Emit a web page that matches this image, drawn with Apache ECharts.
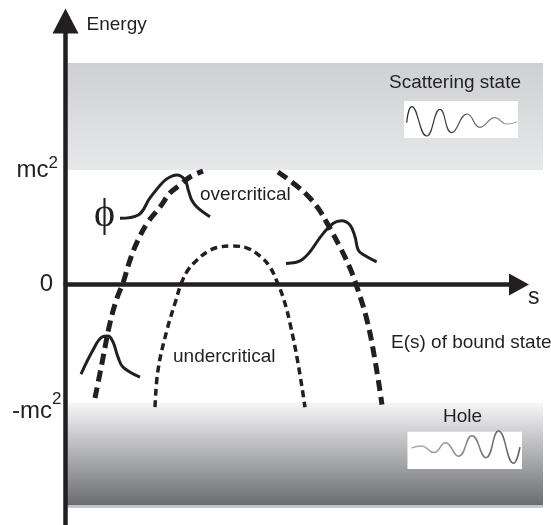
<!DOCTYPE html>
<html><head><meta charset="utf-8">
<script src="https://cdn.jsdelivr.net/npm/echarts@6/dist/echarts.min.js"></script>
<style>html,body{margin:0;padding:0;background:#fff}#c{width:551px;height:525px}</style>
</head><body><div id="c"></div>
<script>
// ---- data (s on x, energy in units of mc^2 on y) ----
const tickValues = [1, 0, -1];
const tickLabels = [['mc', '2'], ['0', ''], ['-mc', '2']];
const axisNames = { x: 's', y: 'Energy' };

const scatteringBand = [[0, 1.0], [10.53, 1.934]];
const holeBand = [[0, -1.93], [10.53, -1.03]];
const holeBandEdge = [[0, -1.952], [10.53, -1.93]];
const scatteringBox = [[7.464, 1.279], [9.978, 1.602]];
const holeBox = [[7.541, -1.612], [10.066, -1.285]];

const overLeft = [[0.650,-0.992],[0.805,-0.686],[0.981,-0.336],[1.136,-0.118],[1.268,0.012],[1.422,0.213],[1.599,0.388],[1.819,0.545],[2.084,0.676],[2.304,0.798],[2.525,0.868],[2.745,0.938],[3.032,0.990]];
const overRight = [[4.686,0.982],[5.017,0.886],[5.325,0.781],[5.568,0.667],[5.766,0.536],[6.053,0.327],[6.273,0.143],[6.428,-0.023],[6.648,-0.311],[6.825,-0.660],[6.979,-1.050]];
const under = [[1.974,-1.071],[2.040,-0.748],[2.238,-0.397],[2.437,-0.135],[2.547,0.003],[2.701,0.126],[2.900,0.213],[3.120,0.283],[3.341,0.322],[3.671,0.335],[4.002,0.318],[4.289,0.248],[4.509,0.152],[4.686,0.003],[4.818,-0.136],[4.950,-0.337],[5.127,-0.686],[5.281,-1.071]];

const phiUpper = [[1.202,0.577],[1.605,0.606],[1.863,0.755],[2.157,0.897],[2.304,0.938],[2.452,0.955],[2.635,0.912],[2.708,0.824],[2.783,0.737],[2.900,0.676],[3.186,0.591]];
const phiRight = [[4.862,0.184],[5.208,0.213],[5.685,0.446],[5.905,0.534],[6.090,0.556],[6.273,0.519],[6.384,0.417],[6.456,0.300],[6.582,0.257],[6.862,0.198]];
const phiLower = [[0.342,-0.783],[0.606,-0.573],[0.805,-0.459],[0.937,-0.450],[1.047,-0.502],[1.158,-0.634],[1.268,-0.721],[1.643,-0.809]];

const scatterWave = [[7.524,1.412],[7.634,1.552],[7.965,1.296],[8.258,1.529],[8.516,1.325],[8.860,1.488],[9.140,1.372],[9.471,1.456],[9.729,1.401],[9.962,1.421]];
const holeWave = [[7.630,-1.428],[7.850,-1.411],[8.126,-1.468],[8.379,-1.381],[8.666,-1.499],[8.964,-1.320],[9.272,-1.512],[9.548,-1.280],[9.879,-1.560],[10.022,-1.420]];

// ---- chart ----
const INK = '#231f20';
const FONT = 'Liberation Sans, Arial, Helvetica, sans-serif';
const chart = echarts.init(document.getElementById('c'), null, { renderer: 'canvas' });
const G = echarts.graphic.LinearGradient;

function curve(data, width, type, z) {
  return { type: 'line', xAxisIndex: 0, yAxisIndex: 0, data, symbol: 'none', smooth: 0.4,
    silent: true, z: z || 3, lineStyle: { color: INK, width, type, cap: 'butt', join: 'round' } };
}
const rangeOf = (r, color) => [{ coord: r[0], itemStyle: { color } }, { coord: r[1] }];

const series = [
  Object.assign(curve(under, 3.5, [7, 4.5]), {
    markArea: { silent: true, data: [
      rangeOf(scatteringBand, new G(0, 0, 0, 1, [{ offset: 0, color: '#cfd0d2' }, { offset: 1, color: '#e7e8e9' }])),
      rangeOf(holeBand, new G(0, 0, 0, 1, [{ offset: 0, color: '#f7f7f8' }, { offset: 1, color: '#6b6c70' }])),
      rangeOf(holeBandEdge, '#c6c7c9')
    ] }
  }),
  Object.assign(curve(overLeft, 5, [11, 6]), {
    markArea: { silent: true, data: [rangeOf(scatteringBox, '#ffffff'), rangeOf(holeBox, '#ffffff')] }
  }),
  curve(overRight, 5, [11, 6]),
  curve(phiUpper, 3, 'solid'),
  curve(phiRight, 3, 'solid'),
  curve(phiLower, 3, 'solid'),
  { type: 'line', data: scatterWave, symbol: 'none', smooth: 0.5, silent: true, z: 4,
    lineStyle: { width: 1.2, color: new G(0, 0, 1, 0, [{ offset: 0, color: '#2a2a2a' }, { offset: 0.55, color: '#555' }, { offset: 1, color: '#b5b5b5' }]) } },
  { type: 'line', data: holeWave, symbol: 'none', smooth: 0.5, silent: true, z: 4,
    lineStyle: { width: 1.5, color: new G(0, 0, 1, 0, [{ offset: 0, color: '#b0b0b0' }, { offset: 1, color: '#5a5a5a' }]) } }
];

const txt = (text, x, y, size, family) => ({ type: 'text', silent: true, z: 20,
  style: { text, x, y, fill: INK, fontSize: size || 19, fontFamily: family || FONT, align: 'left', verticalAlign: 'middle' } });

chart.setOption({
  animation: false,
  backgroundColor: '#fff',
  grid: [
    { left: 65.5, right: 8, top: 21, bottom: 0, outerBoundsMode: 'none' },
    { left: 65.5, right: 32, top: 21, bottom: 0, outerBoundsMode: 'none' }
  ],
  xAxis: [
    { gridIndex: 0, type: 'value', min: 0, max: 10.53, show: false },
    { gridIndex: 1, type: 'value', min: 0, max: 10, z: 10,
      name: axisNames.x, nameLocation: 'end', nameGap: 9,
      nameTextStyle: { fontSize: 23, fontFamily: FONT, color: INK, align: 'left', verticalAlign: 'top', padding: [2, 0, 0, 0] },
      axisLine: { show: true, onZero: true, symbol: ['none', 'triangle'], symbolSize: [22, 20], lineStyle: { color: INK, width: 4.5 } },
      axisTick: { show: false }, axisLabel: { show: false }, splitLine: { show: false } }
  ],
  yAxis: [
    { gridIndex: 0, type: 'value', min: -2.1, max: 2.3, show: false },
    { gridIndex: 1, type: 'value', min: -2.1, max: 2.3, z: 10,
      name: axisNames.y, nameLocation: 'end', nameGap: -4,
      nameTextStyle: { fontSize: 19, fontFamily: FONT, color: INK, align: 'left', verticalAlign: 'middle', padding: [0, 0, 0, 21] },
      axisLine: { show: true, symbol: ['none', 'triangle'], symbolSize: [26, 25], lineStyle: { color: INK, width: 4.5 } },
      axisTick: { show: false }, splitLine: { show: false },
      axisLabel: {
        show: true, customValues: tickValues, margin: 4, color: INK, fontFamily: FONT,
        formatter: (v) => {
          const i = tickValues.indexOf(v);
          if (i < 0) return '';
          const [a, b] = tickLabels[i];
          if (v > 0) return '{up|' + a + '}{upSup|' + b + '}';
          if (v < 0) return '{dn|' + a + '}{dnSup|' + b + '}';
          return '{zero|' + a + '}';
        },
        rich: {
          up: { fontSize: 24, lineHeight: 30, fontFamily: FONT, color: INK },
          upSup: { fontSize: 17, lineHeight: 17, verticalAlign: 'top', padding: [0, 3.5, 0, 0], fontFamily: FONT, color: INK },
          zero: { fontSize: 24, lineHeight: 30, padding: [0, 8.5, 0, 0], fontFamily: FONT, color: INK },
          dn: { fontSize: 24, lineHeight: 27, verticalAlign: 'bottom', fontFamily: FONT, color: INK },
          dnSup: { fontSize: 17, lineHeight: 48, fontFamily: FONT, color: INK }
        }
      } }
  ],
  graphic: [
    txt('Scattering state', 389, 83),
    txt('overcritical', 200, 195),
    txt('undercritical', 173, 357),
    txt('E(s) of bound state', 391, 343),
    txt('Hole', 443, 417),
    txt('\u03D5', 94, 215, 40, 'Liberation Serif, DejaVu Serif, serif')
  ],
  series
});
</script></body></html>
